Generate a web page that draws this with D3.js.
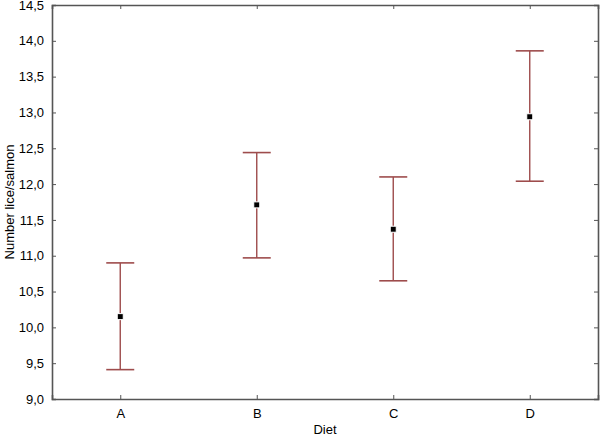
<!DOCTYPE html>
<html>
<head>
<meta charset="utf-8">
<script src="https://cdn.jsdelivr.net/npm/d3@7"></script>
<style>
  body { margin: 0; background: #fff; }
  text { font-family: "Liberation Sans", Arial, sans-serif; }
</style>
</head>
<body>
<div id="chart"></div>
<script>
// data
var diets = ["A", "B", "C", "D"];
var means = [10.15, 11.71, 11.37, 12.94];
var upper = [10.90, 12.44, 12.10, 13.86];
var lower = [9.41, 10.97, 10.65, 12.04];
var yTicks = [9.0, 9.5, 10.0, 10.5, 11.0, 11.5, 12.0, 12.5, 13.0, 13.5, 14.0, 14.5];

var width = 600, height = 439;
var margin = {top: 5, right: 2, bottom: 40, left: 52};

var svg = d3.select("#chart").append("svg")
    .attr("width", width)
    .attr("height", height);

var x = d3.scalePoint()
    .domain(diets)
    .range([margin.left, width - margin.right])
    .padding(0.5);

var y = d3.scaleLinear()
    .domain([9, 14.5])
    .range([height - margin.bottom, margin.top]);

var fmt = function (d) { return d3.format(".1f")(d).replace(".", ","); };
var axisColor = "#555";

// bottom axis with labels, ticks pointing in
var xAxis = svg.append("g")
    .attr("transform", "translate(0," + y(9) + ")")
    .call(d3.axisBottom(x).tickSize(-4).tickPadding(10));
// left axis
var yAxis = svg.append("g")
    .attr("transform", "translate(" + x.range()[0] + ",0)")
    .call(d3.axisLeft(y).tickValues(yTicks).tickFormat(fmt).tickSize(-4).tickPadding(8));
// top and right axes, ticks only
var topAxis = svg.append("g")
    .attr("transform", "translate(0," + y(14.5) + ")")
    .call(d3.axisTop(x).tickSize(-4).tickFormat(""));
var rightAxis = svg.append("g")
    .attr("transform", "translate(" + x.range()[1] + ",0)")
    .call(d3.axisRight(y).tickValues(yTicks).tickSize(-4).tickFormat(""));

[xAxis, yAxis, topAxis, rightAxis].forEach(function (a) {
    a.select(".domain").attr("stroke", axisColor).attr("stroke-width", 1.6);
    a.selectAll(".tick line").attr("stroke", axisColor).attr("stroke-width", 1);
    a.selectAll("text").attr("fill", "#000").style("font-size", "13px");
});

// error bars
var bars = svg.append("g")
    .selectAll("g")
    .data(diets)
    .enter()
    .append("g");

var barColor = "#9e4c4c";
var cap = 14;

bars.append("line")
    .attr("x1", function (d) { return x(d); })
    .attr("x2", function (d) { return x(d); })
    .attr("y1", function (d, i) { return y(upper[i]); })
    .attr("y2", function (d, i) { return y(lower[i]); })
    .attr("stroke", barColor)
    .attr("stroke-width", 1.4);

bars.append("line")
    .attr("x1", function (d) { return x(d) - cap; })
    .attr("x2", function (d) { return x(d) + cap; })
    .attr("y1", function (d, i) { return y(upper[i]); })
    .attr("y2", function (d, i) { return y(upper[i]); })
    .attr("stroke", barColor)
    .attr("stroke-width", 1.6);

bars.append("line")
    .attr("x1", function (d) { return x(d) - cap; })
    .attr("x2", function (d) { return x(d) + cap; })
    .attr("y1", function (d, i) { return y(lower[i]); })
    .attr("y2", function (d, i) { return y(lower[i]); })
    .attr("stroke", barColor)
    .attr("stroke-width", 1.6);

// mean markers
bars.append("rect")
    .attr("x", function (d) { return x(d) - 3; })
    .attr("y", function (d, i) { return y(means[i]) - 3; })
    .attr("width", 6)
    .attr("height", 6)
    .attr("fill", "#000")
    .attr("stroke", "#fff")
    .attr("stroke-width", 1);

// axis titles
svg.append("text")
    .attr("x", (x.range()[0] + x.range()[1]) / 2)
    .attr("y", 434)
    .attr("text-anchor", "middle")
    .style("font-size", "13px")
    .text("Diet");

svg.append("text")
    .attr("transform", "translate(14," + (y(11.75)) + ") rotate(-90)")
    .attr("text-anchor", "middle")
    .style("font-size", "13px")
    .text("Number lice/salmon");
</script>
</body>
</html>
